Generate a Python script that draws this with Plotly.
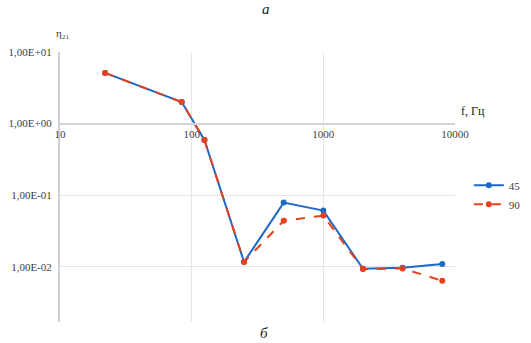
import plotly.graph_objects as go

freq = [22, 84, 125, 250, 500, 1000, 2000, 4000, 8000]
eta_45 = [5.1, 2.0, 0.59, 0.0117, 0.079, 0.061, 0.0094, 0.0097, 0.011]
eta_90 = [5.1, 2.0, 0.59, 0.0117, 0.044, 0.052, 0.0093, 0.0095, 0.0064]
names = ["45", "90"]

y_tickvals = [10, 1, 0.1, 0.01]
y_ticktext = ["1,00E+01", "1,00E+00", "1,00E-01", "1,00E-02"]
x_tickvals = [10, 100, 1000, 10000]
x_ticktext = ["10", "100", "1000", "10000"]

blue = "#1f68c4"
red = "#e8401c"
serif = "Liberation Serif, Times New Roman, serif"

fig = go.Figure()
fig.add_trace(go.Scatter(x=freq, y=eta_45, name=names[0], mode="lines+markers",
                         line=dict(color=blue, width=2),
                         marker=dict(color=blue, size=6)))
fig.add_trace(go.Scatter(x=freq, y=eta_90, name=names[1], mode="lines+markers",
                         line=dict(color=red, width=2, dash="dash"),
                         marker=dict(color=red, size=6)))

ymin, ymax = -2.77, 1.0
xpos = (0 - ymin) / (ymax - ymin)

fig.update_layout(
    width=531, height=343,
    margin=dict(l=60, r=76, t=52, b=21, autoexpand=False),
    paper_bgcolor="white", plot_bgcolor="white",
    font=dict(family=serif, size=11, color="#404040"),
    showlegend=True,
    legend=dict(x=1.035, y=0.56, xanchor="left", yanchor="top",
                font=dict(family=serif, size=11, color="#404040"),
                bgcolor="rgba(0,0,0,0)", itemwidth=30, tracegroupgap=0),
    xaxis=dict(type="log", range=[1, 4], tickvals=x_tickvals, ticktext=x_ticktext,
               showgrid=True, gridcolor="#e6e6e6", gridwidth=1,
               showline=True, linecolor="#d4d4d4", linewidth=1.5,
               anchor="free", position=xpos, ticks="", zeroline=False, automargin=False,
               tickfont=dict(family=serif, size=11, color="#404040")),
    yaxis=dict(type="log", range=[ymin, ymax], tickvals=y_tickvals, ticktext=y_ticktext,
               showgrid=True, gridcolor="#e6e6e6", gridwidth=1,
               showline=True, linecolor="#d0d0d0", linewidth=2,
               ticks="", zeroline=False, automargin=False, ticklabelstandoff=4,
               tickfont=dict(family=serif, size=11, color="#404040")),
    annotations=[
        dict(text="<i>а</i>", x=266, y=334, xref="paper", yref="paper", showarrow=False,
             font=dict(family=serif, size=15, color="#222")),
        dict(text="<i>б</i>", x=264, y=10, xref="paper", yref="paper", showarrow=False,
             font=dict(family=serif, size=15, color="#222")),
        dict(text="η₂₁", x=63, y=310, xref="paper", yref="paper", showarrow=False,
             font=dict(family=serif, size=11, color="#333")),
        dict(text="f, Гц", x=473, y=232, xref="paper", yref="paper", showarrow=False,
             font=dict(family=serif, size=12, color="#222")),
    ],
)

pw = 531 - 60 - 76
ph = 343 - 52 - 21
for a in fig.layout.annotations:
    a.x = (a.x - 60) / pw
    a.y = (a.y - 21) / ph
    a.xanchor = "center"
    a.yanchor = "middle"

fig.write_html("out.html", config={"displayModeBar": False},
               post_script="document.body.style.margin='0';document.body.style.overflow='hidden';")
